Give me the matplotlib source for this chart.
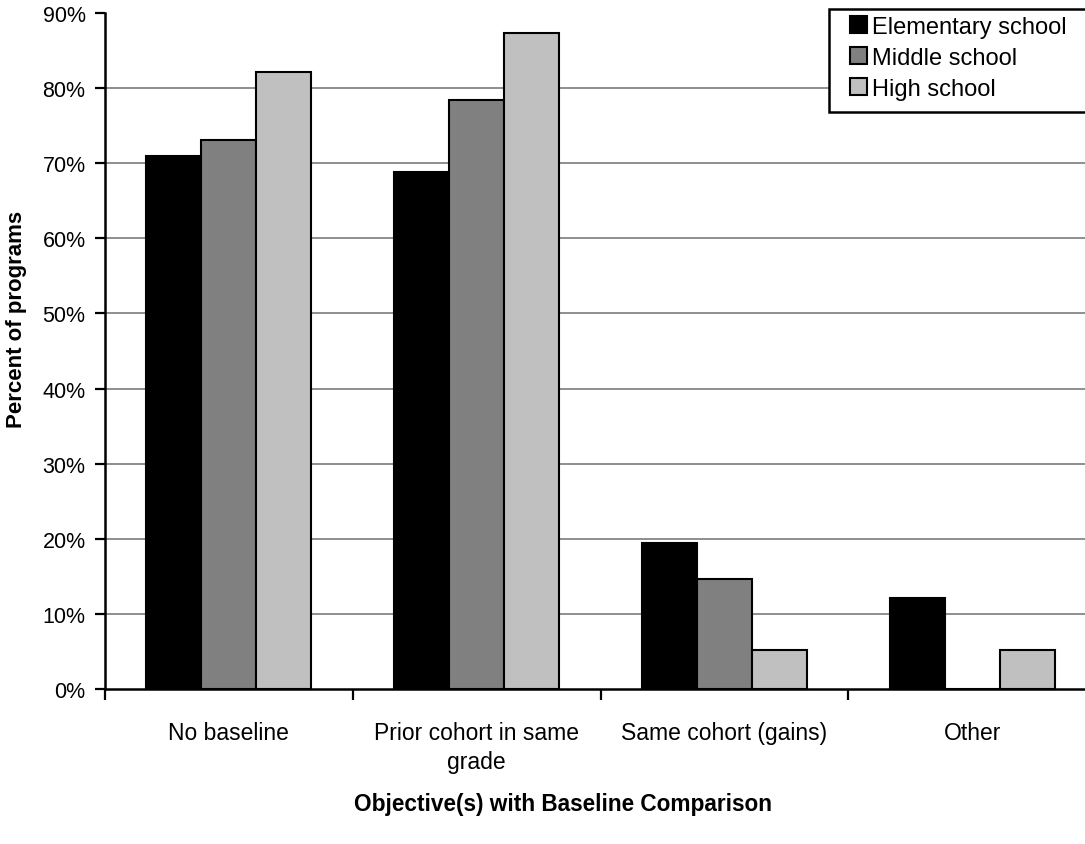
import numpy as np
import matplotlib.pyplot as plt
from matplotlib.patches import Rectangle

# =========================================================
# DATA
# =========================================================
categories = ["No baseline", "Prior cohort in same\ngrade", "Same cohort (gains)", "Other"]
series_names = ["Elementary school", "Middle school", "High school"]
elementary = [71.0, 68.8, 19.5, 12.1]
middle = [73.1, 78.4, 14.6, 0.0]
high = [82.1, 87.3, 5.2, 5.2]
colors = ["#000000", "#808080", "#c0c0c0"]
y_ticks = [0, 10, 20, 30, 40, 50, 60, 70, 80, 90]

# =========================================================
# FIGURE
# =========================================================
plt.rcParams["font.family"] = ["Liberation Sans", "DejaVu Sans"]

W, H = 1085, 845
fig = plt.figure(figsize=(W / 100, H / 100), dpi=100)
ax = fig.add_axes([105 / W, 1 - 690 / H, 991 / W, 676 / H])

x = np.arange(len(categories))
bar_w = 1 / 4.5
for i, (vals, name, col) in enumerate(zip([elementary, middle, high], series_names, colors)):
    ax.bar(x + (i - 1) * bar_w, vals, bar_w, color=col, edgecolor="black",
           linewidth=1.5, label=name, zorder=3)

# grid (no line at the top)
for v in y_ticks[1:-1]:
    ax.axhline(v, color="#707070", linewidth=1.1, zorder=1)

ax.set_xlim(-0.5, len(categories) - 0.5)
ax.set_ylim(0, 90)
ax.set_yticks(y_ticks)
ax.set_yticklabels([f"{v}%" for v in y_ticks], fontsize=15.5)
ax.tick_params(axis="y", length=7, width=1.6, pad=7)

# category boundaries as major ticks, names on minor ticks
ax.set_xticks(np.arange(-0.5, len(categories), 1.0))
ax.set_xticklabels([])
ax.tick_params(axis="x", which="major", length=8, width=1.6)
ax.set_xticks(x, minor=True)
ax.set_xticklabels(categories, minor=True, fontsize=16.5, linespacing=1.35)
ax.tick_params(axis="x", which="minor", length=0, pad=23)

for s in ["top", "right"]:
    ax.spines[s].set_visible(False)
for s in ["left", "bottom"]:
    ax.spines[s].set_linewidth(1.8)

fig.text(563 / W, 1 - 805 / H, "Objective(s) with Baseline Comparison",
         ha="center", va="center", fontsize=16.3, fontweight="bold")
fig.text(17 / W, 1 - 319 / H, "Percent of programs", rotation=90,
         ha="center", va="center", fontsize=16, fontweight="bold")

# =========================================================
# LEGEND
# =========================================================
fig.patches.append(Rectangle((829 / W, 1 - 113 / H), 300 / W, 103 / H,
                             transform=fig.transFigure, facecolor="white",
                             edgecolor="black", linewidth=1.8, zorder=5))
leg = fig.legend(loc="upper left", bbox_to_anchor=(850 / W, 1 - 17 / H),
                 frameon=False, fontsize=17, handlelength=0.72,
                 handleheight=0.72, handletextpad=0.2, labelspacing=0.38,
                 borderpad=0, borderaxespad=0)
leg.set_zorder(6)

fig.savefig("out.png", dpi=100)
